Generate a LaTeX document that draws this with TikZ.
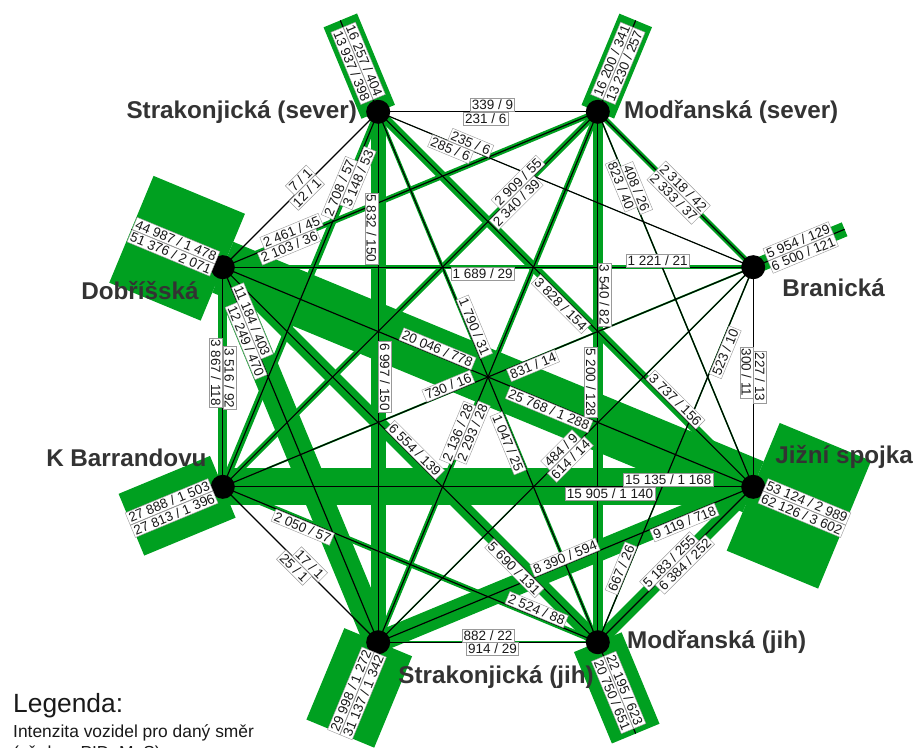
\documentclass[tikz,border=0pt]{standalone}
\usepackage{fontspec}
\setmainfont{Liberation Sans}
\usetikzlibrary{calc,positioning}

\definecolor{zelena}{RGB}{0,160,32}
\newcommand{\cislofont}{\fontsize{12.8}{15}\selectfont}
\newcommand{\nazevfont}{\bfseries\fontsize{23}{27}\selectfont}

\tikzset{
  pas/.style={draw=zelena, line cap=butt},
  spoj/.style={draw=black, line width=1.1pt},
  popis/.style={sloped, fill=white, draw=black!40, line width=0.4pt, inner sep=1.5pt, font=\cislofont, text=black!90},
  stanice/.style={circle, fill=black, inner sep=0pt, minimum size=22.8pt},
  nazev/.style={font=\nazevfont, text=black!80, inner sep=0pt},
  legenda/.style={font=\fontsize{25}{29}\selectfont, text=black!90, inner sep=0pt},
  legtext/.style={font=\fontsize{16.5}{20}\selectfont, text=black!90, inner sep=0pt},
}

\begin{document}
\begin{tikzpicture}[x=0.0333333cm, y=0.0333333cm]
  \useasboundingbox (0,0) rectangle (915,-748);
  \clip (0,0) rectangle (915,-748);

  % krizovatky
  \coordinate (SS) at (378.2,-111.8);
  \coordinate (MS) at (597.8,-111.8);
  \coordinate (Br) at (753.2,-267.2);
  \coordinate (JS) at (753.2,-486.8);
  \coordinate (MJ) at (597.8,-642.2);
  \coordinate (SJ) at (378.2,-642.2);
  \coordinate (KB) at (222.8,-486.8);
  \coordinate (Do) at (222.8,-267.2);
  % konce vyjezdu
  \coordinate (SS-out) at (340.3,-20.4);
  \coordinate (MS-out) at (635.7,-20.4);
  \coordinate (Br-out) at (844.6,-229.3);
  \coordinate (JS-out) at (844.6,-524.7);
  \coordinate (MJ-out) at (635.7,-733.6);
  \coordinate (SJ-out) at (340.3,-733.6);
  \coordinate (KB-out) at (131.4,-524.7);
  \coordinate (Do-out) at (131.4,-229.3);

  % zelene pasy (sirka ~ soucet obou smeru)
  \foreach \a/\b/\w in {SS/MS/0.65, SS/Br/0.59, SS/KB/6.66, SS/SJ/14.6, SS/JS/8.61, SS/MJ/3.23,
      MS/SJ/5.04, MS/KB/5.97, MS/Do/5.19, MS/Br/5.29, MS/JS/1.40, MS/MJ/9.95,
      Br/Do/3.31, Br/JS/0.60, Br/MJ/1.35, Br/SJ/1.25, Br/KB/1.76,
      JS/Do/52.1, JS/KB/35.3, JS/MJ/13.2, JS/SJ/19.9,
      MJ/SJ/2.04, MJ/Do/13.9, MJ/KB/5.21, SJ/Do/26.7, KB/Do/8.40}
    \draw[pas, line width=\w pt] (\a) -- (\b);
  \foreach \n/\w in {SS/34.4, MS/33.5, Br/14.2, JS/131.2, MJ/48.9, SJ/69.6, KB/63.4, Do/109.7}
    \draw[pas, line width=\w pt] (\n) -- (\n-out);

  % cerne spojnice
  \foreach \a/\b in {SS/MS, SS/Br, SS/Do, SS/KB, SS/SJ, SS/JS, SS/MJ,
      MS/SJ, MS/KB, MS/Do, MS/Br, MS/JS, MS/MJ,
      Br/Do, Br/JS, Br/MJ, Br/SJ, Br/KB,
      JS/Do, JS/KB, JS/MJ, JS/SJ,
      MJ/SJ, MJ/Do, MJ/KB, SJ/KB, SJ/Do, KB/Do}
    \draw[spoj] (\a) -- (\b);
  \foreach \n in {SS,MS,Br,JS,MJ,SJ,KB,Do}
    \draw[spoj] (\n) -- (\n-out);

  \foreach \n in {SS,MS,Br,JS,MJ,SJ,KB,Do}
    \node[stanice] (\n-bod) at (\n) {};

  % popisky vyjezdu
  \path (SS) -- (SS-out) node[popis, above, pos=.53] (SS-v1) {16 257 / 404} node[popis, below, pos=.53] (SS-v2) {13 937 / 398};
  \path (MS) -- (MS-out) node[popis, above, pos=.53] (MS-v1) {16 200 / 341} node[popis, below, pos=.53] (MS-v2) {13 230 / 257};
  \path (Br) -- (Br-out) node[popis, above, pos=.52] (Br-v1) {5 954 / 129} node[popis, below, pos=.52] (Br-v2) {6 500 / 121};
  \path (JS) -- (JS-out) node[popis, above, pos=.56] (JS-v1) {53 124 / 2 989} node[popis, below, pos=.56] (JS-v2) {62 126 / 3 602};
  \path (MJ) -- (MJ-out) node[popis, above, pos=.55] (MJ-v1) {22 195 / 623} node[popis, below, pos=.55] (MJ-v2) {20 750 / 651};
  \path (SJ) -- (SJ-out) node[popis, above, pos=.56] (SJ-v1) {29 998 / 1 272} node[popis, below, pos=.56] (SJ-v2) {31 137 / 1 342};
  \path (KB) -- (KB-out) node[popis, above, pos=.56] (KB-v1) {27 888 / 1 503} node[popis, below, pos=.56] (KB-v2) {27 813 / 1 396};
  \path (Do) -- (Do-out) node[popis, above, pos=.54] (Do-v1) {44 987 / 1 478} node[popis, below, pos=.54] (Do-v2) {51 376 / 2 071};

  % popisky spojnic
  \path (SS) -- (MS) node[popis, above, pos=.52] (l1a) {339 / 9} node[popis, below, pos=.49] (l1b) {231 / 6};
  \path (SS) -- (Br) node[popis, above, pos=.24] (l2a) {235 / 6} node[popis, below, pos=.20] (l2b) {285 / 6};
  \path (Do) -- (SS) node[popis, above, pos=.53] (l3a) {7 / 1} node[popis, below, pos=.51] (l3b) {12 / 1};
  \path (KB) -- (SS) node[popis, above, pos=.79] (l4a) {2 708 / 57} node[popis, below, pos=.83] (l4b) {3 148 / 53};
  \path (SS) -- (SJ) node[popis, below, pos=.22] (l5a) {5 832 / 150} node[popis, above, pos=.50] (l5b) {6 997 / 150};
  \path (SS) -- (JS) node[popis, below, pos=.50] (l6a) {3 828 / 154} node[popis, above, pos=.78] (l6b) {3 737 / 156};
  \path (SS) -- (MJ) node[popis, above, pos=.41] (l7a) {1 790 / 31} node[popis, below, pos=.62] (l7b) {1 047 / 25};
  \path (SJ) -- (MS) node[popis, above, pos=.39] (l8a) {2 136 / 28} node[popis, below, pos=.40] (l8b) {2 293 / 28};
  \path (KB) -- (MS) node[popis, above, pos=.80] (l9a) {2 909 / 55} node[popis, below, pos=.77] (l9b) {2 340 / 39};
  \path (Do) -- (MS) node[popis, above, pos=.19] (l10a) {2 461 / 45} node[popis, below, pos=.17] (l10b) {2 103 / 36};
  \path (MS) -- (Br) node[popis, above, pos=.52] (l11a) {2 318 / 42} node[popis, below, pos=.52] (l11b) {2 333 / 37};
  \path (MS) -- (JS) node[popis, below, pos=.19] (l12a) {823 / 40} node[popis, above, pos=.21] (l12b) {408 / 26};
  \path (MS) -- (MJ) node[popis, above, pos=.345] (l13a) {3 540 / 82} node[popis, below, pos=.51] (l13b) {5 200 / 128};
  \path (Do) -- (Br) node[popis, below, pos=.49] (l14a) {1 689 / 29} node[popis, above, pos=.82] (l14b) {1 221 / 21};
  \path (Br) -- (JS) node[popis, above, pos=.50] (l15a) {227 / 13} node[popis, below, pos=.48] (l15b) {300 / 11};
  \path (Br) -- (MJ) node[popis, below, pos=.22] (l16a) {523 / 10} node[popis, above, pos=.81] (l16b) {667 / 26};
  \path (SJ) -- (Br) node[popis, above, pos=.50] (l17a) {484 / 9} node[popis, below, pos=.50] (l17b) {614 / 14};
  \path (KB) -- (Br) node[popis, below, pos=.58] (l18a) {831 / 14} node[popis, above, pos=.43] (l18b) {730 / 16};
  \path (Do) -- (JS) node[popis, above, pos=.40] (l19a) {20 046 / 778} node[popis, below, pos=.62] (l19b) {25 768 / 1 288};
  \path (KB) -- (JS) node[popis, above, pos=.84] (l20a) {15 135 / 1 168} node[popis, below, pos=.73] (l20b) {15 905 / 1 140};
  \path (MJ) -- (JS) node[popis, above, pos=.49] (l21a) {5 183 / 255} node[popis, below, pos=.53] (l21b) {6 384 / 252};
  \path (SJ) -- (JS) node[popis, below, pos=.81] (l22a) {9 119 / 718} node[popis, above, pos=.505] (l22b) {8 390 / 594};
  \path (SJ) -- (MJ) node[popis, above, pos=.50] (l23a) {882 / 22} node[popis, below, pos=.52] (l23b) {914 / 29};
  \path (Do) -- (MJ) node[popis, above, pos=.50] (l24a) {6 554 / 139} node[popis, below, pos=.79] (l24b) {5 690 / 131};
  \path (KB) -- (MJ) node[popis, below, pos=.22] (l25a) {2 050 / 57} node[popis, above, pos=.83] (l25b) {2 524 / 88};
  \path (KB) -- (SJ) node[popis, above, pos=.53] (l26a) {17 / 1} node[popis, below, pos=.49] (l26b) {25 / 1};
  \path (Do) -- (SJ) node[popis, above, pos=.15] (l27a) {11 184 / 403} node[popis, below, pos=.19] (l27b) {12 249 / 470};
  \path (Do) -- (KB) node[popis, below, pos=.48] (l28a) {3 867 / 118} node[popis, above, pos=.505] (l28b) {3 516 / 92};

  % nazvy krizovatek
  \node[nazev, left=0.7cm of SS] (SS-nazev) {Strakonjická (sever)};
  \node[nazev, right=0.87cm of MS] (MS-nazev) {Modřanská (sever)};
  \node[nazev, anchor=west] (Br-nazev) at ($(Br)+(29,-21)$) {Branická};
  \node[nazev, anchor=west] (JS-nazev) at ($(JS)+(22,30)$) {Jižní spojka};
  \node[nazev, right=0.97cm of MJ] (MJ-nazev) {Modřanská (jih)};
  \node[nazev, anchor=west] (SJ-nazev) at ($(SJ)+(20,-35)$) {Strakonjická (jih)};
  \node[nazev, anchor=east] (KB-nazev) at ($(KB)+(-16,29)$) {K Barrandovu};
  \node[nazev, anchor=east] (Do-nazev) at ($(Do)+(-24,-23)$) {Dobříšská};

  % legenda
  \node[legenda, anchor=base west] (leg) at (13,-712) {Legenda:};
  \node[legtext, anchor=base west] (leg-1) at (13,-737) {Intenzita vozidel pro daný směr};
  \node[legtext, anchor=base west] (leg-2) at (13,-758) {(vč. bus PID, MaS)};
\end{tikzpicture}
\end{document}
